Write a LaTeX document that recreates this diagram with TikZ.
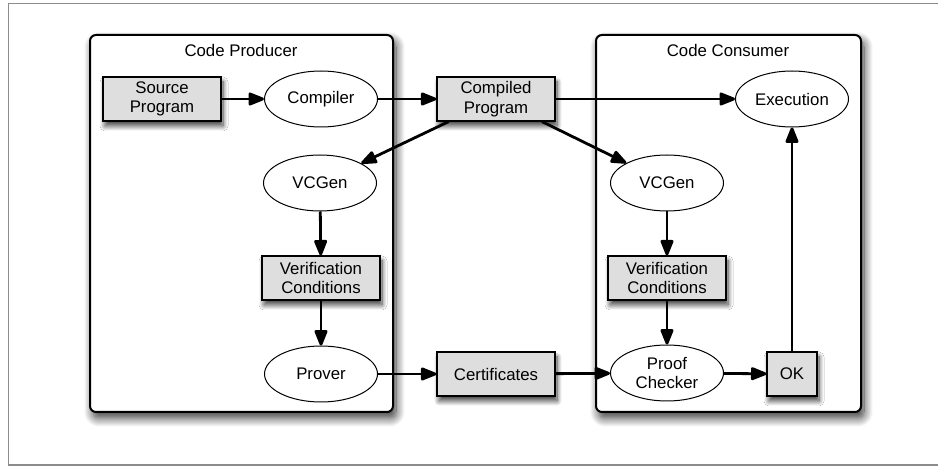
\documentclass[tikz,border=0pt]{standalone}
\usepackage{fontspec}
\setmainfont{Liberation Sans}
\usetikzlibrary{shapes.geometric,arrows.meta,shadows.blur}

\definecolor{boxgray}{HTML}{DEDEDE}
\definecolor{framegray}{HTML}{8C8C8C}

\begin{document}
\begin{tikzpicture}[x=1pt,y=1pt,
  font=\fontsize{16.8}{19.5}\selectfont,
  panel/.style={draw=black, line width=2pt, rounded corners=6pt, fill=white,
    blur shadow={shadow xshift=3pt, shadow yshift=-6pt, shadow blur radius=9pt,
      shadow blur steps=12, shadow opacity=80}},
  databox/.style={rectangle, draw=black, line width=1.2pt, fill=boxgray,
    fill opacity=1, draw opacity=1, text opacity=1,
    minimum width=118pt, minimum height=44pt, align=center, inner sep=2pt,
    blur shadow={shadow xshift=2pt, shadow yshift=-5pt, shadow blur radius=5pt,
      shadow blur steps=10, shadow opacity=75}},
  proc/.style={ellipse, draw=black, line width=1pt, fill=white,
    fill opacity=1, draw opacity=1, text opacity=1,
    minimum width=113pt, minimum height=56pt, align=center, inner sep=1pt},
  flow/.style={line width=2.8pt, draw=black, fill=black,
    draw opacity=1, fill opacity=1,
    >={Triangle[length=18pt,width=13.5pt,round=false]}, ->},
  title/.style={anchor=center}
]
\useasboundingbox (0,0) rectangle (938,466);

% outer frame
\draw[framegray, line width=1.3pt] (8.5,462.5) rectangle (960,1);

% the two parties
\draw[panel] (90,431) rectangle (393,54);
\draw[panel] (596,431) rectangle (861,54);
\node[title] (tprod) at (241,415) {Code Producer};
\node[title] (tcons) at (728,415) {Code Consumer};

% producer side
\node[databox] (src)  at (162,367) {Source\\Program};
\node[proc]    (comp) at (321,367) {Compiler};
\node[proc]    (vl)   at (320,283) {VCGen};
\node[databox] (vcl)  at (321,188) {Verification\\Conditions};
\node[proc]    (prov) at (321,92) {Prover};

% transferred items
\node[databox] (cp)   at (496,367) {Compiled\\Program};
\node[databox] (cert) at (496,92) {Certificates};

% consumer side
\node[proc]    (exe)  at (792,367) {Execution};
\node[proc]    (vr)   at (667,283) {VCGen};
\node[databox] (vcr)  at (667,188) {Verification\\Conditions};
\node[proc]    (pc)   at (667,93) {Proof\\Checker};
\node[databox, minimum width=50pt] (ok) at (792,92) {OK};

% flows
\draw[flow] (src) -- (comp);
\draw[flow] (comp) -- (cp);
\draw[flow] (cp) -- (exe);
\draw[flow] (cp) -- (vl);
\draw[flow] (cp) -- (vr);
\draw[flow] (vl) -- (vcl);
\draw[flow] (vcl) -- (prov);
\draw[flow] (prov) -- (cert);
\draw[flow] (cert) -- (pc);
\draw[flow] (vr) -- (vcr);
\draw[flow] (vcr) -- (pc);
\draw[flow] (pc) -- (ok);
\draw[flow] (ok) -- (exe);
\end{tikzpicture}
\end{document}
